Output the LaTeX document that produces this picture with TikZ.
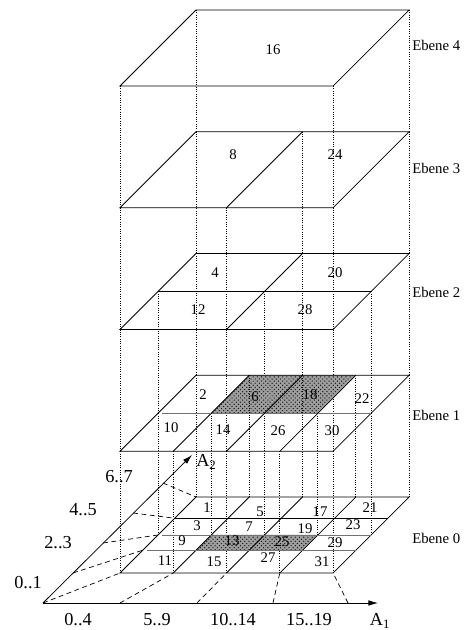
\documentclass[tikz,border=0pt]{standalone}
\usepackage{fontspec}
\setmainfont{Liberation Serif}
\usetikzlibrary{arrows.meta, patterns}

\tikzset{
  plane/.style={line width=0.55pt},
  rowline/.style={line width=0.55pt, black!55},
  drop/.style={line width=0.45pt, dash pattern=on 0.45pt off 1.2pt},
  proj/.style={line width=0.5pt, dash pattern=on 3.5pt off 2.5pt},
  marked/.style={fill=black!38, postaction={pattern=crosshatch dots, pattern color=black!90}},
  cell/.style={font=\fontsize{10.5}{12}\selectfont, inner sep=0pt},
  levellabel/.style={font=\fontsize{10.5}{12}\selectfont, anchor=west, inner sep=0pt},
  ticklabel/.style={font=\fontsize{13}{15}\selectfont, inner sep=0pt},
}

\begin{document}
\begin{tikzpicture}[x=0.025cm, y=-0.025cm, >={Latex[length=2.4mm,width=1.4mm]}]
      % Rahmen in Pixeln (y nach unten)
      \useasboundingbox (0,0) rectangle (466,630);
      % Abstand der Ebenen in cm
      \def\gap{3.04375cm}

      % Ebene 4
      \begin{scope}[shift={(120,86)}, x={(5.325cm,0cm)}, y={(1.9cm,1.9cm)}]
        \draw[plane] (0,0) -- (1,0) -- (1,1) -- (0,1) -- cycle;
        \foreach \u in {0,1} \foreach \v in {0,1}
          \draw[drop] (\u,\v) -- ++(0cm,-\gap);
      \end{scope}

      % Ebene 3
      \begin{scope}[shift={(120,207.75)}, x={(5.325cm,0cm)}, y={(1.9cm,1.9cm)}]
        \draw[plane] (0,0) -- (1,0) -- (1,1) -- (0,1) -- cycle;
        \draw[plane] (0.5,0) -- (0.5,1);
        \foreach \u in {0,0.5,1} \foreach \v in {0,1}
          \draw[drop] (\u,\v) -- ++(0cm,-\gap);
      \end{scope}

      % Ebene 2
      \begin{scope}[shift={(120,329.5)}, x={(5.325cm,0cm)}, y={(1.9cm,1.9cm)}]
        \draw[plane] (0,0) -- (1,0) -- (1,1) -- (0,1) -- cycle;
        \draw[plane] (0.5,0) -- (0.5,1);
        \draw[plane] (0,0.5) -- (1,0.5);
        \foreach \u in {0,0.5,1} \foreach \v in {0,0.5,1}
          \draw[drop] (\u,\v) -- ++(0cm,-\gap);
      \end{scope}

      % Ebene 1
      \begin{scope}[shift={(120,451.25)}, x={(5.325cm,0cm)}, y={(1.9cm,1.9cm)}]
        \fill[marked] (0.25,0.5) -- (0.75,0.5) -- (0.75,1) -- (0.25,1) -- cycle;
        \draw[plane] (0,0) -- (1,0) -- (1,1) -- (0,1) -- cycle;
        \foreach \u in {0.25,0.5,0.75}
          \draw[plane] (\u,0) -- (\u,1);
        \draw[rowline] (0.02,0.5) -- (1,0.5);
        \foreach \u in {0,0.25,0.5,0.75,1} \foreach \v in {0,0.5,1}
          \draw[drop] (\u,\v) -- ++(0cm,-\gap);
      \end{scope}

      % Ebene 0
      \begin{scope}[shift={(120,573)}, x={(5.325cm,0cm)}, y={(1.9cm,1.9cm)}]
        \fill[marked] (0.25,0.3) -- (0.75,0.3) -- (0.75,0.5) -- (0.25,0.5) -- cycle;
        \draw[plane] (0,0) -- (1,0) -- (1,1) -- (0,1) -- cycle;
        \foreach \u in {0.25,0.5,0.75}
          \draw[plane] (\u,0) -- (\u,1);
        \draw[plane] (0,0.72) -- (1,0.72);
        \draw[rowline] (0.02,0.3) -- (1,0.3);
        \draw[rowline] (0.02,0.5) -- (1,0.5);
        % Eckpunkte fuer die Projektion
        \foreach \i/\u in {0/0,1/0.25,2/0.5,3/0.75,4/1}
          \coordinate (c\i) at (\u,0);
        \foreach \i/\v in {1/0.3,2/0.5,3/0.72,4/1}
          \coordinate (r\i) at (0,\v);
      \end{scope}

      % Zellennummern
      \node[cell] (n16) at (273,50) {16};
      \node[cell] (n8) at (233,155) {8};
      \node[cell] (n24) at (335,155) {24};
      \node[cell] (n4) at (215,273) {4};
      \node[cell] (n20) at (335,273) {20};
      \node[cell] (n12) at (198,310) {12};
      \node[cell] (n28) at (305,310) {28};
      \node[cell] (n2) at (203,395) {2};
      \node[cell] (n6) at (255,397) {6};
      \node[cell] (n18) at (310,395) {18};
      \node[cell] (n22) at (362,399) {22};
      \node[cell] (n10) at (171,428) {10};
      \node[cell] (n14) at (223,430) {14};
      \node[cell] (n26) at (278,431) {26};
      \node[cell] (n30) at (332,431) {30};
      \node[cell] (n1) at (207,508) {1};
      \node[cell] (n5) at (260,512) {5};
      \node[cell] (n17) at (320,512) {17};
      \node[cell] (n21) at (370,508) {21};
      \node[cell] (n3) at (197,526) {3};
      \node[cell] (n7) at (249,527) {7};
      \node[cell] (n19) at (305,529) {19};
      \node[cell] (n23) at (353,525) {23};
      \node[cell] (n9) at (182,541) {9};
      \node[cell] (n13) at (232,541) {13};
      \node[cell] (n25) at (282,542) {25};
      \node[cell] (n29) at (335,543) {29};
      \node[cell] (n11) at (165,561) {11};
      \node[cell] (n15) at (214,562) {15};
      \node[cell] (n27) at (268,558) {27};
      \node[cell] (n31) at (322,562) {31};

      % Ebenen
      \node[levellabel] (e4) at (412,45) {Ebene 4};
      \node[levellabel] (e3) at (412,168) {Ebene 3};
      \node[levellabel] (e2) at (412,292) {Ebene 2};
      \node[levellabel] (e1) at (412,415) {Ebene 1};
      \node[levellabel] (e0) at (412,538) {Ebene 0};

      % Achsen
      \coordinate (O) at (43,603);
      \coordinate (A1end) at (378,603);
      \coordinate (A2end) at (192,455);
      \draw[->, plane] (O) -- (A1end);
      \draw[->, plane] (O) -- (A2end);
      \node[ticklabel] (a1lab) at (380,621) {A\textsubscript{1}};
      \node[ticklabel, anchor=west] (a2lab) at (196,462) {A\textsubscript{2}};

      % Intervallgrenzen auf den Achsen
      \foreach \i/\x in {1/120,2/197,3/273,4/348}
        \coordinate (t\i) at (\x,603);
      \foreach \i in {1,...,4}
        \coordinate (s\i) at ({43+30*\i},{603-30*\i});

      % Projektionslinien
      \draw[proj] (O) -- (c0);
      \foreach \i in {1,...,4} {
        \draw[proj] (t\i) -- (c\i);
        \draw[proj] (s\i) -- (r\i);
      }

      % Intervalle
      \node[ticklabel] (x0) at (78,620) {0..4};
      \node[ticklabel] (x1) at (157,620) {5..9};
      \node[ticklabel] (x2) at (233,620) {10..14};
      \node[ticklabel] (x3) at (309,620) {15..19};
      \node[ticklabel] (y0) at (28,583) {0..1};
      \node[ticklabel] (y1) at (58,543) {2..3};
      \node[ticklabel] (y2) at (83,510) {4..5};
      \node[ticklabel] (y3) at (119,477) {6..7};

\end{tikzpicture}
\end{document}
